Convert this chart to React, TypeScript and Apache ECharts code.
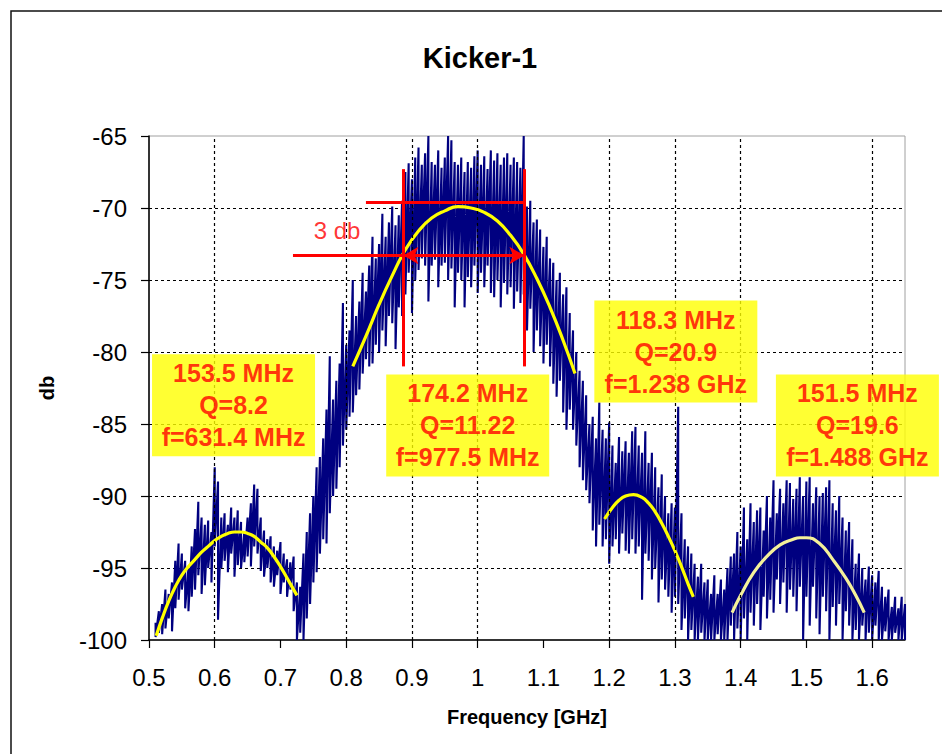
import React, { useEffect, useRef } from "react";
import * as echarts from "echarts";

const FONT = 'Arial, "Liberation Sans", sans-serif';

// Measured trace: sampled every 5 MHz from 0.510 GHz; upper and lower excursion at each sample (dB)
const freqStart = 0.51;
const freqStep = 0.005;
const traceHi = [
  -98.8, -98.0, -97.5, -96.5, -96.8, -96.0, -94.5, -93.3, -94.0, -94.5,
  -95.0, -93.5, -92.3, -90.4, -91.5, -92.0, -91.7, -92.5, -88.0, -89.0,
  -91.5, -91.2, -92.0, -90.8, -91.5, -91.0, -91.8, -92.5, -91.5, -90.5,
  -89.2, -89.5, -91.5, -92.4, -93.0, -92.8, -93.5, -93.8, -93.2, -94.0,
  -94.4, -94.6, -94.2, -96.0, -96.3, -94.0, -92.5, -91.2, -90.0, -88.0,
  -87.3, -86.0, -84.0, -80.3, -83.3, -82.0, -80.8, -76.6, -79.5, -78.5,
  -75.0, -77.5, -76.5, -74.5, -75.8, -74.0, -72.0, -73.5, -72.5, -70.4,
  -72.0, -71.0, -69.9, -71.2, -70.5, -69.5, -67.5, -66.9, -68.0, -66.5,
  -65.8, -67.0, -66.2, -65.0, -66.8, -67.0, -66.0, -67.2, -66.5, -65.0,
  -65.3, -66.8, -67.0, -66.5, -67.5, -66.8, -67.2, -66.4, -66.0, -67.0,
  -66.4, -67.3, -66.0, -66.7, -66.2, -67.0, -66.5, -66.2, -67.0, -66.5,
  -66.8, -67.2, -65.0, -69.9, -69.5, -71.0, -70.8, -71.5, -72.7, -72.0,
  -73.5, -73.8, -75.0, -74.5, -76.0, -75.5, -77.3, -78.5, -80.0, -81.3,
  -82.0, -83.0, -85.0, -84.5, -86.0, -83.5, -85.4, -86.0, -84.9, -86.5,
  -87.7, -85.9, -86.9, -86.2, -87.0, -85.5, -85.2, -86.5, -87.0, -85.5,
  -87.7, -87.0, -88.0, -89.4, -88.5, -90.0, -91.2, -90.5, -90.8, -83.8,
  -91.2, -93.0, -93.5, -94.0, -94.7, -95.6, -94.7, -96.0, -95.8, -96.8,
  -95.5, -96.8, -95.8, -96.5, -95.0, -94.2, -94.0, -92.5, -93.5, -90.8,
  -93.0, -90.5, -91.8, -91.0, -90.8, -92.4, -90.0, -91.5, -88.9, -91.2,
  -89.5, -90.5, -88.9, -89.1, -90.2, -89.5, -88.7, -90.0, -89.0, -88.7,
  -90.5, -89.4, -90.0, -89.8, -89.4, -88.9, -90.5, -91.0, -90.0, -91.5,
  -92.4, -91.8, -93.0, -94.7, -94.0, -95.0, -95.8, -94.9, -95.5, -96.0,
  -95.2, -96.3, -97.0, -96.5, -97.7, -97.0, -97.8, -97.0, -97.5,
];
const traceLo = [
  -99.8, -99.5, -99.6, -99.2, -98.5, -99.4, -97.8, -97.2, -96.5, -97.8,
  -98.0, -97.0, -96.5, -95.5, -96.8, -96.2, -95.0, -96.0, -93.5, -98.6,
  -95.0, -94.5, -95.3, -94.0, -95.6, -94.8, -95.0, -94.6, -94.2, -94.9,
  -93.5, -94.0, -95.2, -95.6, -95.0, -96.0, -96.3, -95.5, -96.8, -96.0,
  -97.0, -96.5, -98.0, -100, -99.5, -100, -98.5, -97.5, -96.0, -95.3,
  -94.0, -93.0, -93.3, -91.2, -90.0, -89.5, -88.0, -86.5, -85.4, -84.5,
  -84.2, -83.0, -82.6, -81.5, -80.5, -81.0, -80.8, -79.5, -80.0, -78.5,
  -79.6, -77.5, -78.0, -79.8, -76.9, -77.5, -76.0, -74.5, -77.3, -75.0,
  -74.3, -73.5, -74.0, -76.5, -74.0, -73.6, -75.5, -74.0, -73.8, -75.0,
  -74.2, -76.9, -74.5, -75.0, -76.9, -74.8, -75.5, -74.0, -75.9, -74.5,
  -75.5, -74.0, -75.9, -76.2, -75.0, -76.9, -75.2, -76.0, -75.5, -77.0,
  -75.8, -76.6, -76.0, -78.5, -77.0, -80.0, -78.5, -79.6, -80.8, -79.5,
  -81.0, -82.2, -83.1, -82.0, -84.2, -85.4, -84.0, -85.4, -86.5, -88.0,
  -88.9, -89.6, -90.5, -92.4, -93.5, -92.0, -93.5, -93.0, -94.7, -93.5,
  -93.0, -94.0, -92.6, -93.8, -94.0, -93.0, -94.0, -93.5, -97.2, -94.0,
  -94.5, -95.8, -95.0, -97.4, -95.8, -96.5, -97.0, -98.1, -97.0, -97.5,
  -99.3, -98.5, -100, -99.3, -100, -100, -99.5, -100, -100, -100,
  -100, -99.6, -100, -100, -100, -99.0, -100, -99.2, -100, -98.5,
  -100, -98.1, -99.0, -97.5, -99.3, -97.0, -98.5, -97.2, -98.1, -95.8,
  -97.5, -96.0, -98.1, -96.5, -97.0, -98.0, -96.3, -100, -97.0, -99.0,
  -96.3, -98.5, -99.6, -97.0, -98.0, -100, -97.7, -99.0, -97.5, -100,
  -98.0, -99.0, -100, -99.3, -100, -99.0, -100, -99.5, -100, -99.0,
  -100, -100, -99.4, -100, -100, -99.5, -100, -100, -100,
];

// Resonance fits (GHz, dB)
const fit1 = [
  [0.511, -99.7], [0.52, -98.5], [0.53, -97.3], [0.54, -96.3], [0.55, -95.5], [0.56, -94.9],
  [0.57, -94.4], [0.58, -93.9], [0.59, -93.5], [0.6, -93.1], [0.61, -92.8], [0.62, -92.6],
  [0.63, -92.5], [0.64, -92.5], [0.65, -92.6], [0.66, -92.8], [0.67, -93.2], [0.68, -93.6],
  [0.69, -94.2], [0.7, -94.9], [0.71, -95.7], [0.72, -96.5], [0.725, -96.9],
];
const fit2 = [
  [0.81, -81.0], [0.83, -78.9], [0.85, -76.7], [0.87, -74.7], [0.89, -72.9], [0.91, -71.6],
  [0.93, -70.7], [0.95, -70.2], [0.97, -69.9], [0.99, -70.0], [1.01, -70.3], [1.03, -70.9],
  [1.05, -71.9], [1.07, -73.2], [1.09, -74.9], [1.11, -76.9], [1.13, -79.2], [1.148, -81.5],
];
const fit3 = [
  [1.193, -91.6], [1.205, -90.8], [1.215, -90.3], [1.225, -90.0], [1.237, -89.9], [1.25, -90.1],
  [1.26, -90.5], [1.27, -91.1], [1.28, -91.9], [1.29, -92.8], [1.3, -93.8], [1.31, -94.9],
  [1.32, -96.1], [1.328, -97.0],
];
const fit4 = [
  [1.387, -98.1], [1.4, -96.9], [1.42, -95.3], [1.44, -94.2], [1.46, -93.4], [1.48, -93.0],
  [1.49, -92.9], [1.5, -92.9], [1.52, -93.3], [1.54, -94.4], [1.56, -95.7], [1.575, -96.9],
  [1.588, -98.1],
];

// Vertical dotted gridlines that are visible in the picture (GHz)
const xGridLines = [0.6, 0.8, 0.9, 1.0, 1.2, 1.3, 1.4, 1.6];

// 3 dB bandwidth markers: [x1, y1, x2, y2, arrows]
const redLines: [number, number, number, number, boolean][] = [
  [0.887, -67.3, 0.887, -81.0, false],
  [1.071, -67.3, 1.071, -81.0, false],
  [0.83, -69.6, 1.071, -69.6, false],
  [0.719, -73.3, 0.887, -73.3, false],
  [0.887, -73.3, 1.071, -73.3, true],
];

// Annotation boxes (centre in data coordinates)
const annoX = [0.6286, 0.9848, 1.3014, 1.5776];
const annoY = [-83.7, -85.1, -79.97, -85.1];
const annoText = [
  "153.5 MHz\nQ=8.2\nf=631.4 MHz",
  "174.2 MHz\nQ=11.22\nf=977.5 MHz",
  "118.3 MHz\nQ=20.9\nf=1.238 GHz",
  "151.5 MHz\nQ=19.6\nf=1.488 GHz",
];
const dbLabel = { x: 0.786, y: -71.53, text: "3 db" };

export default function App() {
  const ref = useRef<HTMLDivElement>(null);
  useEffect(() => {
    if (!ref.current) return;
    const chart = echarts.init(ref.current, undefined, { renderer: "svg" });

    const traceData: number[][] = [];
    traceHi.forEach((h, i) => {
      const f = +(freqStart + i * freqStep).toFixed(3);
      traceData.push([f, h], [f, traceLo[i]]);
    });

    const fitSeries = (d: number[][], color: string) => ({
      type: "line",
      data: d,
      smooth: true,
      showSymbol: false,
      lineStyle: { color, width: 3.2 },
      z: 3,
      silent: true,
    });

    const markData = redLines.map(([x1, y1, x2, y2, arr]) => [
      { coord: [x1, y1], symbol: arr ? "arrow" : "none", symbolSize: [13, 15] },
      { coord: [x2, y2], symbol: arr ? "arrow" : "none", symbolSize: [13, 15] },
    ]);

    chart.setOption({
      animation: false,
      backgroundColor: "#ffffff",
      textStyle: { fontFamily: FONT },
      grid: {
        left: 149,
        top: 136,
        right: 37,
        bottom: 114,
        show: true,
        borderColor: "#a0a0a0",
        borderWidth: 1,
      },
      graphic: [
        {
          type: "rect",
          silent: true,
          shape: { x: 11, y: 11, width: 1000, height: 900 },
          style: { fill: "none", stroke: "#111", lineWidth: 1.5 },
        },
        {
          type: "text",
          silent: true,
          x: 480,
          y: 58,
          style: {
            text: "Kicker-1",
            align: "center",
            verticalAlign: "middle",
            fontSize: 29,
            fontWeight: "bold",
            fontFamily: FONT,
            fill: "#000",
          },
        },
      ],
      xAxis: {
        type: "value",
        min: 0.5,
        max: 1.65,
        interval: 0.1,
        name: "Frequency [GHz]",
        nameLocation: "middle",
        nameGap: 67,
        nameTextStyle: { fontSize: 20, fontWeight: "bold", color: "#000", fontFamily: FONT },
        axisLine: { show: true, onZero: false, lineStyle: { color: "#000", width: 1.5 } },
        axisTick: { show: true, length: 8, lineStyle: { color: "#000", width: 1.2 } },
        axisLabel: {
          fontSize: 24,
          color: "#000",
          margin: 25,
          showMaxLabel: false,
          fontFamily: FONT,
          formatter: (v: number) => String(Math.round(v * 10) / 10),
        },
        splitLine: { show: false },
      },
      yAxis: {
        type: "value",
        min: -100,
        max: -65,
        interval: 5,
        name: "db",
        nameLocation: "middle",
        nameRotate: 90,
        nameGap: 92,
        nameTextStyle: { fontSize: 20, fontWeight: "bold", color: "#000", fontFamily: FONT },
        axisLine: { show: true, onZero: false, lineStyle: { color: "#000", width: 1.5 } },
        axisTick: { show: true, length: 8, lineStyle: { color: "#000", width: 1.2 } },
        axisLabel: { fontSize: 24, color: "#000", margin: 22, fontFamily: FONT },
        splitLine: {
          show: true,
          showMinLine: false,
          showMaxLine: false,
          lineStyle: { color: "#000", type: [3, 3], width: 1.2 },
        },
      },
      series: [
        {
          type: "line",
          name: "grid",
          data: [],
          silent: true,
          z: 1,
          markLine: {
            silent: true,
            symbol: ["none", "none"],
            label: { show: false },
            lineStyle: { color: "#000", type: [3, 3], width: 1.2 },
            data: xGridLines.map((x) => ({ xAxis: x })),
          },
        },
        {
          type: "line",
          name: "trace",
          data: traceData,
          showSymbol: false,
          lineStyle: { color: "#000080", width: 2.1 },
          z: 2,
          silent: true,
        },
        fitSeries(fit1, "#ffff00"),
        fitSeries(fit2, "#ffff00"),
        fitSeries(fit3, "#ffff00"),
        fitSeries(fit4, "#f4f09a"),
        {
          type: "scatter",
          name: "3db",
          data: [[dbLabel.x, dbLabel.y]],
          symbolSize: 1,
          itemStyle: { color: "rgba(0,0,0,0)" },
          z: 6,
          silent: true,
          label: {
            show: true,
            position: "inside",
            formatter: () => dbLabel.text,
            color: "#ff0000",
            fontSize: 24,
            fontFamily: FONT,
          },
          markLine: {
            silent: true,
            symbol: ["none", "none"],
            label: { show: false },
            lineStyle: { color: "#ff0000", width: 3, type: "solid" },
            data: markData,
          },
        },
        {
          type: "scatter",
          name: "annotations",
          data: annoX.map((x, i) => [x, annoY[i]]),
          symbolSize: 1,
          itemStyle: { color: "rgba(0,0,0,0)" },
          z: 7,
          silent: true,
          label: {
            show: true,
            position: "inside",
            formatter: (p: any) => annoText[p.dataIndex],
            color: "#ff0000",
            fontWeight: "bold",
            fontSize: 25,
            lineHeight: 32,
            fontFamily: FONT,
            backgroundColor: "#ffff00",
            width: 163,
            align: "center",
            padding: [3, 0, 3, 0],
          },
        },
      ],
    });
    return () => chart.dispose();
  }, []);
  return (
    <div
      ref={ref}
      style={{ position: "absolute", left: 0, top: 0, width: 942, height: 754, background: "#fff" }}
    />
  );
}
